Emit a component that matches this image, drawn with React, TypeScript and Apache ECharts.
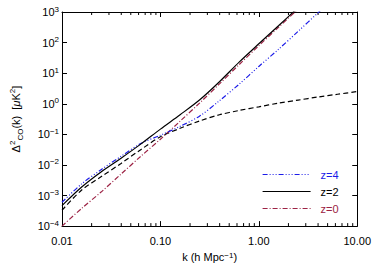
import React, { useEffect, useRef } from "react";
import * as echarts from "echarts";

// k values (h/Mpc) shared by the curves
const kGrid = [0.01, 0.01585, 0.02512, 0.03981, 0.0631, 0.1, 0.1585, 0.2512, 0.3981, 0.631, 1.0, 1.585, 2.512, 3.981, 6.31, 10];

// Δ²_CO(k) [μK²]
const vZ4 = [6.03e-4, 2.4e-3, 7.08e-3, 0.0191, 0.0501, 0.0933, 0.182, 0.398, 1.26, 4.37, 16.6, 60.3, 234, 933, 1862];
const vZ2 = [4.68e-4, 1.905e-3, 6.03e-3, 0.0166, 0.0479, 0.148, 0.437, 1.35, 5.25, 22.9, 91.2, 355, 1413];
const vZ0 = [1e-4, 3.8e-4, 1.32e-3, 5.01e-3, 0.0191, 0.0692, 0.269, 1.07, 4.47, 19.1, 79.4, 316, 1259];
const vLin = [3.31e-4, 1.51e-3, 4.17e-3, 0.0112, 0.0316, 0.0832, 0.158, 0.275, 0.437, 0.603, 0.794, 1.047, 1.318, 1.66, 2.042, 2.512];
const kZ4Last = 5.012; // last blue point beyond the top of the frame

const xTickLabels = ["0.01", "0.10", "1.00", "10.00"];
const minorMultipliers = [2, 3, 4, 5, 6, 7, 8, 9];
const decades = [0.01, 0.1, 1];
const minorTicksX = decades.flatMap((d) => minorMultipliers.map((m) => m * d));

const FONT = "Liberation Sans";
const BLUE = "#1c1ce8";
const RED = "#9c2244";

const zip = (a: number[], b: number[]) => b.map((v, i) => [a[i], v]);

export default function App() {
  const ref = useRef<HTMLDivElement>(null);
  useEffect(() => {
    const chart = echarts.init(ref.current!, null, { renderer: "svg" });
    const yLabel = (v: number) => {
      const e = Math.round(Math.log10(v));
      const s = e < 0 ? "\u2212" + Math.abs(e) : String(e);
      return `{b|10}{s|${s}}`;
    };
    const xLabel = (v: number) => {
      const e = Math.round(Math.log10(v));
      return xTickLabels[e + 2] ?? v.toFixed(2);
    };
    const kZ4 = kGrid.slice(0, 14).concat([kZ4Last]);
    chart.setOption({
      animation: false,
      backgroundColor: "#fff",
      textStyle: { fontFamily: FONT },
      grid: { left: 53, right: 14, top: 12, bottom: 34, containLabel: false },
      legend: {
        orient: "vertical",
        left: 257,
        top: 164,
        itemWidth: 48,
        itemHeight: 10,
        itemGap: 6,
        itemStyle: { opacity: 0 },
        lineStyle: { width: 1.2 },
        textStyle: { fontFamily: FONT, fontSize: 11, padding: [0, 0, 0, 5] },
        data: [
          { name: "z=4", textStyle: { color: BLUE } },
          { name: "z=2", textStyle: { color: "#000" } },
          { name: "z=0", textStyle: { color: RED } },
        ],
      },
      xAxis: [
        {
          type: "log",
          logBase: 10,
          min: 0.01,
          max: 10,
          position: "bottom",
          name: "k (h Mpc{s|\u22121})",
          nameLocation: "middle",
          nameGap: 21,
          nameTextStyle: {
            fontFamily: FONT,
            fontSize: 11,
            color: "#000",
            rich: {
              s: { fontSize: 8, verticalAlign: "top", color: "#000", fontFamily: FONT },
            },
          },
          axisLine: { show: true, lineStyle: { color: "#000", width: 1 } },
          axisTick: { show: true, inside: true, length: 5, lineStyle: { color: "#000" } },
          axisLabel: { fontFamily: FONT, fontSize: 11, color: "#000", margin: 9, formatter: xLabel },
          splitLine: { show: false },
          minorTick: { show: false },
        },
        {
          type: "log",
          logBase: 10,
          min: 0.01,
          max: 10,
          position: "top",
          axisLine: { show: true, lineStyle: { color: "#000", width: 1 } },
          axisTick: { show: true, inside: true, length: 5, lineStyle: { color: "#000" } },
          axisLabel: { show: false },
          splitLine: { show: false },
        },
      ],
      yAxis: [
        {
          type: "log",
          logBase: 10,
          min: 1e-4,
          max: 1e3,
          position: "left",
          name: "{d|\u0394}{s|2}{u|CO}{d|(k)  [}{i|\u03bc}{d|K}{s|2}{d|]}",
          nameLocation: "middle",
          nameGap: 38,
          nameRotate: 90,
          nameTextStyle: {
            fontFamily: FONT,
            fontSize: 11,
            color: "#000",
            rich: {
              d: { fontSize: 11, fontFamily: FONT, color: "#000", lineHeight: 16 },
              i: { fontSize: 11, fontFamily: FONT, color: "#000", fontStyle: "italic", lineHeight: 16 },
              s: { fontSize: 8, verticalAlign: "top", fontFamily: FONT, color: "#000" },
              u: { fontSize: 8, verticalAlign: "bottom", fontFamily: FONT, color: "#000" },
            },
          },
          axisLine: { show: true, lineStyle: { color: "#000", width: 1 } },
          axisTick: { show: true, inside: true, length: 5, lineStyle: { color: "#000" } },
          axisLabel: {
            fontFamily: FONT,
            color: "#000",
            margin: 3,
            formatter: yLabel,
            rich: {
              b: { fontSize: 11, fontFamily: FONT, color: "#000", lineHeight: 14 },
              s: { fontSize: 8, fontFamily: FONT, color: "#000", verticalAlign: "top" },
            },
          },
          splitLine: { show: false },
        },
        {
          type: "log",
          logBase: 10,
          min: 1e-4,
          max: 1e3,
          position: "right",
          axisLine: { show: true, lineStyle: { color: "#000", width: 1 } },
          axisTick: { show: true, inside: true, length: 5, lineStyle: { color: "#000" } },
          axisLabel: { show: false },
          splitLine: { show: false },
        },
      ],
      series: [
        {
          name: "lin",
          type: "line",
          data: zip(kGrid, vLin),
          symbol: "none",
          smooth: 0.3,
          lineStyle: { color: "#000", width: 1.2, type: [5, 3] },
          itemStyle: { color: "#000" },
          clip: true,
        },
        {
          name: "z=0",
          type: "line",
          data: zip(kGrid, vZ0),
          symbol: "none",
          smooth: 0.3,
          lineStyle: { color: RED, width: 1.2, type: [5, 2, 1, 2] },
          itemStyle: { color: RED },
          clip: true,
        },
        {
          name: "z=4",
          type: "line",
          data: zip(kZ4, vZ4),
          symbol: "none",
          smooth: 0.3,
          lineStyle: { color: BLUE, width: 1.2, type: [5, 2, 1, 2, 1, 2, 1, 2] },
          itemStyle: { color: BLUE },
          clip: true,
        },
        {
          name: "z=2",
          type: "line",
          data: zip(kGrid, vZ2),
          symbol: "none",
          smooth: 0.3,
          lineStyle: { color: "#000", width: 1.2 },
          itemStyle: { color: "#000" },
          clip: true,
        },
        {
          name: "minor",
          type: "custom",
          silent: true,
          clip: false,
          data: minorTicksX.map((k) => [k, 1]),
          encode: { x: 0, y: 1 },
          renderItem: (params: any, api: any) => {
            const k = api.value(0);
            const pb = api.coord([k, 1e-4]);
            const pt = api.coord([k, 1e3]);
            return {
              type: "group",
              children: [
                { type: "line", shape: { x1: pb[0], y1: pb[1], x2: pb[0], y2: pb[1] - 3 }, style: { stroke: "#000", lineWidth: 1 } },
                { type: "line", shape: { x1: pt[0], y1: pt[1], x2: pt[0], y2: pt[1] + 3 }, style: { stroke: "#000", lineWidth: 1 } },
              ],
            };
          },
        },
      ],
    });
    return () => chart.dispose();
  }, []);
  return (
    <div
      ref={ref}
      style={{ position: "fixed", left: 0, top: 0, width: 374, height: 267, background: "#fff" }}
    />
  );
}
